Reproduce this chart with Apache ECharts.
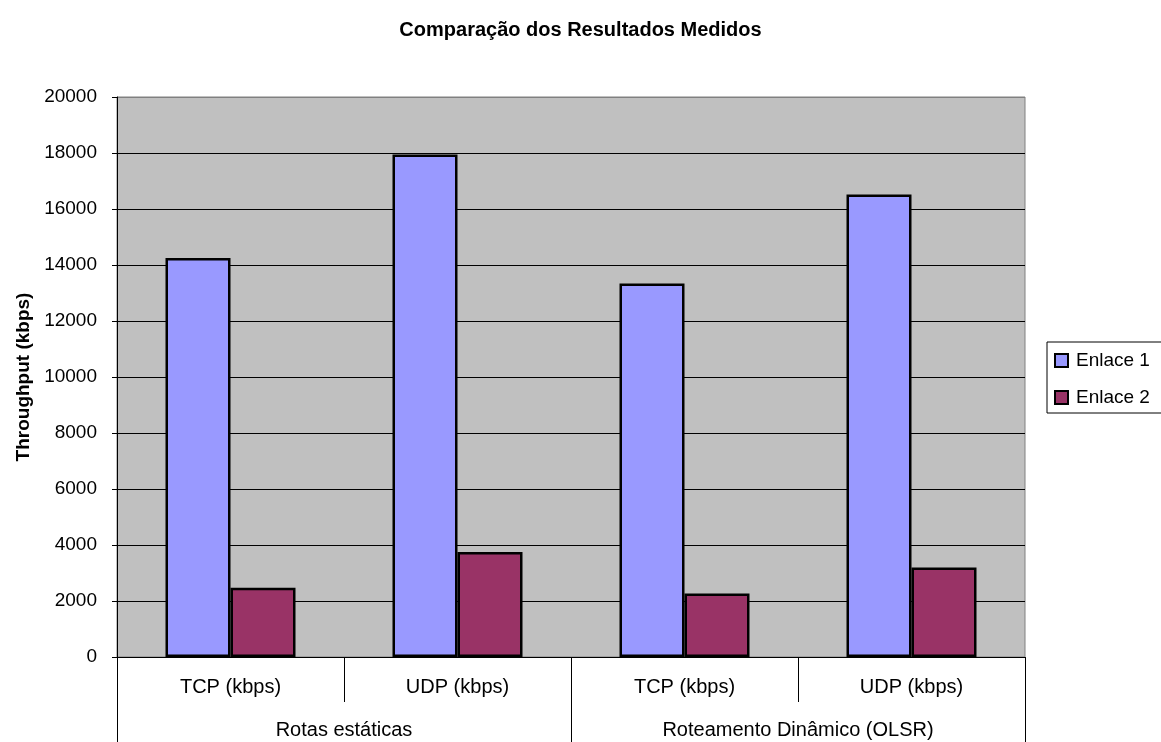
<!DOCTYPE html>
<html><head><meta charset="utf-8">
<script src="https://cdn.jsdelivr.net/npm/echarts@6/dist/echarts.min.js"></script>
<style>html,body{margin:0;padding:0;background:#fff}#c{width:1161px;height:742px}</style>
</head><body><div id="c"></div>
<script>
const categories = ['TCP (kbps)', 'UDP (kbps)', 'TCP (kbps)', 'UDP (kbps)'];
const groups = ['Rotas estáticas', 'Roteamento Dinâmico (OLSR)'];
const enlace1 = [14250, 17950, 13340, 16520];
const enlace2 = [2470, 3750, 2270, 3200];
const yTicks = [0, 20000, 2000];
const seriesNames = ['Enlace 1', 'Enlace 2'];

const FONT = 'Liberation Sans, Arial, sans-serif';
const gridColors = ['#000','#000','#000','#000','#000','#000','#000','#000','#000','#000','#808080'];
const chart = echarts.init(document.getElementById('c'));
chart.setOption({
  animation: false,
  backgroundColor: '#fff',
  title: {
    text: 'Comparação dos Resultados Medidos',
    left: 'center', top: 15,
    textStyle: {fontFamily: FONT, fontSize: 20, fontWeight: 'bold', color: '#000'}
  },
  legend: {
    orient: 'vertical', left: 1047, top: 342,
    data: seriesNames,
    itemWidth: 13, itemHeight: 13, itemGap: 18,
    padding: [9, 30, 6, 7],
    borderColor: '#000', borderWidth: 1,
    icon: 'rect',
    textStyle: {fontFamily: FONT, fontSize: 19, color: '#000', padding: [0, 0, 0, 3]},
    itemStyle: {borderColor: '#000', borderWidth: 2}
  },
  grid: {left: 117, right: 136, top: 97, bottom: 85, show: true, backgroundColor: '#c0c0c0', borderColor: '#808080', borderWidth: 1},
  xAxis: [{
    type: 'category', data: categories, position: 'bottom',
    axisLine: {lineStyle: {color: '#000', width: 1}},
    axisTick: {show: true, interval: 0, length: 45, lineStyle: {color: '#000'}},
    axisLabel: {interval: 0, margin: 20, fontFamily: FONT, fontSize: 20, color: '#000'}
  }, {
    type: 'category', data: groups, position: 'bottom',
    axisLine: {show: false},
    axisTick: {show: true, interval: 0, length: 86, lineStyle: {color: '#000'}},
    axisLabel: {interval: 0, margin: 63, fontFamily: FONT, fontSize: 20, color: '#000'}
  }],
  yAxis: {
    type: 'value', min: yTicks[0], max: yTicks[1], interval: yTicks[2],
    name: 'Throughput (kbps)', nameLocation: 'middle', nameGap: 84,
    nameTextStyle: {fontFamily: FONT, fontSize: 19, fontWeight: 'bold', color: '#000'},
    axisLine: {show: true, lineStyle: {color: '#000'}},
    axisTick: {show: true, length: 5, lineStyle: {color: '#000'}},
    axisLabel: {margin: 20, fontFamily: FONT, fontSize: 19, color: '#000', formatter: v => String(v)},
    splitLine: {lineStyle: {color: gridColors, width: 1}}
  },
  series: [{
    name: seriesNames[0], type: 'bar', data: enlace1, xAxisIndex: 0,
    barWidth: 65, barGap: '0%',
    itemStyle: {color: '#9999ff', borderColor: '#000', borderWidth: 2.5}
  }, {
    name: seriesNames[1], type: 'bar', data: enlace2, xAxisIndex: 0,
    barWidth: 65, barGap: '0%',
    itemStyle: {color: '#993366', borderColor: '#000', borderWidth: 2.5}
  }]
});
</script></body></html>
